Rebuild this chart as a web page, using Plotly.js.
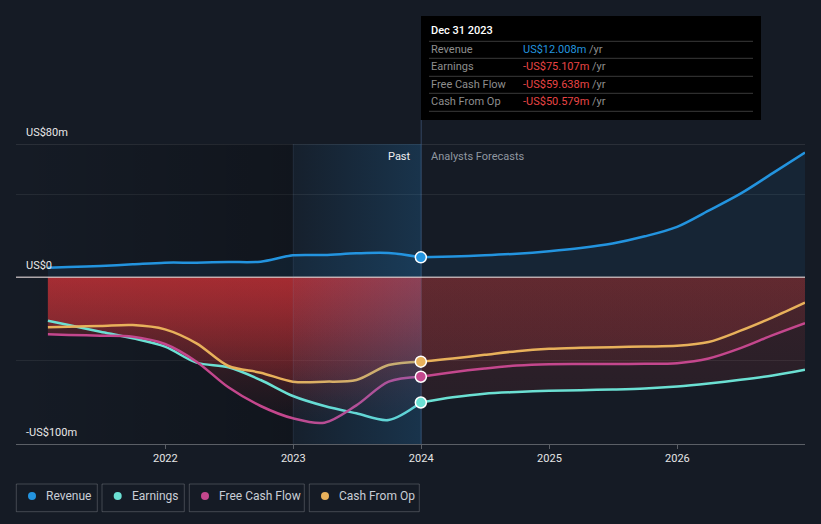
<!DOCTYPE html>
<html>
<head>
<meta charset="utf-8">
<script src="https://cdn.plot.ly/plotly-3.0.1.min.js"></script>
<style>html,body{margin:0;padding:0;background:#151b25;}#chart{width:821px;height:524px;}</style>
</head>
<body>
<div id="chart"></div>
<script>
// ---- data (US$ millions) ----
const pastDates = ['2021-01-31','2021-03-31','2021-06-30','2021-09-30','2021-12-31','2022-03-31','2022-06-30','2022-09-30','2022-12-31','2023-03-31','2023-06-30','2023-09-30','2023-12-31'];
const forecastDates = ['2023-12-31','2024-03-31','2024-06-30','2024-09-30','2024-12-31','2025-03-31','2025-06-30','2025-09-30','2025-12-31','2026-03-31','2026-06-30','2026-09-30','2026-12-31'];

const revenuePast = [5.8, 6.2, 6.8, 7.8, 8.8, 8.8, 9.2, 9.4, 13.2, 13.4, 14.4, 14.6, 12.008];
const revenueForecast = [12.008, 12.5, 13.2, 14.2, 15.7, 17.6, 20.3, 24.6, 30.3, 40.0, 50.2, 62.5, 74.9];

const earningsPast = [-26.0, -28.6, -32.6, -36.6, -41.6, -51.2, -54.0, -61.6, -71.2, -77.2, -81.6, -85.6, -75.107];
const earningsForecast = [-75.107, -72.0, -69.8, -68.8, -68.1, -67.7, -67.3, -66.7, -65.5, -63.7, -61.5, -58.9, -55.5];

const fcfPast = [-34.2, -34.6, -35.0, -35.6, -40.0, -50.6, -66.0, -77.2, -84.6, -87.2, -76.8, -62.6, -59.638];
const fcfForecast = [-59.638, -56.9, -54.7, -52.9, -52.1, -52.0, -52.0, -51.9, -51.5, -48.7, -42.5, -34.7, -27.5];

const cfoPast = [-30.0, -29.6, -29.2, -28.6, -31.2, -39.6, -53.2, -57.2, -62.6, -62.6, -61.6, -52.6, -50.579];
const cfoForecast = [-50.579, -48.7, -46.5, -44.3, -42.9, -42.3, -41.9, -41.5, -41.1, -38.8, -32.0, -24.0, -15.2];

const seriesNames = ['Revenue', 'Earnings', 'Free Cash Flow', 'Cash From Op'];
const seriesColors = ['#2394df', '#6be0d3', '#c4478d', '#e8b15b'];
const tooltipDate = 'Dec 31 2023';
const tooltipValues = ['US$12.008m', '-US$75.107m', '-US$59.638m', '-US$50.579m'];
const yLabelVals = [80, 0, -100];
const yLabelText = ['US$80m', 'US$0', '-US$100m'];
const yearTicks = ['2022-01-01','2023-01-01','2024-01-01','2025-01-01','2026-01-01'];
const yearLabels = ['2022','2023','2024','2025','2026'];
const xRange = ['2020-11-01','2026-12-31'];
const yRange = [-100, 80];
const pastStart = '2023-01-01';
const forecastStart = '2024-01-01';

const FONT = 'Roboto, "Open Sans", Arial, sans-serif';
const traces = [];

// darker region left of the "past" band
traces.push({
  x: [xRange[0], pastStart, pastStart, xRange[0], xRange[0]],
  y: [yRange[1], yRange[1], yRange[0], yRange[0], yRange[1]],
  mode: 'none', fill: 'toself', hoverinfo: 'skip', showlegend: false,
  fillcolor: 'rgba(0,0,0,0.1)',
  fillgradient: {type: 'horizontal', colorscale: [[0, 'rgba(0,0,0,0.0)'], [1, 'rgba(0,0,0,0.22)']]}
});

// revenue fill
[[pastDates, revenuePast], [forecastDates, revenueForecast]].forEach(([x, y]) => {
  traces.push({x, y, mode: 'none', fill: 'tozeroy', line: {shape: 'spline', smoothing: 0.9},
    fillcolor: 'rgba(35,148,223,0.09)', hoverinfo: 'skip', showlegend: false});
});

// negative fills
[earningsPast, fcfPast, cfoPast].forEach(y => {
  traces.push({x: pastDates, y, mode: 'lines', line: {width: 0, shape: 'spline', smoothing: 0.9}, fill: 'tozeroy',
    fillcolor: 'rgba(200,50,55,0.3)',
    fillgradient: {type: 'vertical', start: -90, stop: 0,
      colorscale: [[0, 'rgba(200,50,55,0.0)'], [1, 'rgba(205,50,55,0.4)']]},
    hoverinfo: 'skip', showlegend: false});
});
[earningsForecast, fcfForecast, cfoForecast].forEach(y => {
  traces.push({x: forecastDates, y, mode: 'lines', line: {width: 0, shape: 'spline', smoothing: 0.9}, fill: 'tozeroy',
    fillcolor: 'rgba(200,60,62,0.15)',
    fillgradient: {type: 'vertical', start: -80, stop: 0,
      colorscale: [[0, 'rgba(200,60,62,0.10)'], [1, 'rgba(200,60,62,0.17)']]},
    hoverinfo: 'skip', showlegend: false});
});

// lines
const pastSets = [revenuePast, earningsPast, fcfPast, cfoPast];
const fcSets = [revenueForecast, earningsForecast, fcfForecast, cfoForecast];
for (let i = 0; i < 4; i++) {
  traces.push({x: pastDates, y: pastSets[i], mode: 'lines', name: seriesNames[i],
    line: {color: seriesColors[i], width: 2.5, shape: 'spline', smoothing: 0.9}, hoverinfo: 'skip', showlegend: false});
  traces.push({x: forecastDates, y: fcSets[i], mode: 'lines', name: seriesNames[i],
    line: {color: seriesColors[i], width: 2.5, shape: 'spline', smoothing: 0.9}, hoverinfo: 'skip', showlegend: false});
}

// past band overlay
traces.push({
  x: [pastStart, forecastStart, forecastStart, pastStart, pastStart],
  y: [yRange[1], yRange[1], yRange[0], yRange[0], yRange[1]],
  mode: 'none', fill: 'toself', hoverinfo: 'skip', showlegend: false,
  fillcolor: 'rgba(30,140,220,0.12)',
  fillgradient: {type: 'horizontal', colorscale: [[0, 'rgba(40,150,230,0.04)'], [1, 'rgba(40,150,230,0.2)']]}
});

// markers at the latest actual point
traces.push({
  x: [pastDates[12], pastDates[12], pastDates[12], pastDates[12]],
  y: [revenuePast[12], earningsPast[12], fcfPast[12], cfoPast[12]],
  mode: 'markers', hoverinfo: 'skip', showlegend: false,
  marker: {size: 11, color: seriesColors, line: {color: '#ffffff', width: 1.5}}
});

// ---- layout helpers ----
const W = 821, H = 524, L = 16, R = 16, T = 144, B = 80;
const pw = W - L - R, ph = H - T - B;
const xp = px => (px - L) / pw;
const yp = py => (H - B - py) / ph;

const shapes = [];
const annotations = [];

// top line at 80 and zero line
shapes.push({type: 'line', xref: 'paper', yref: 'y', x0: 0, x1: 1, y0: 80, y1: 80, line: {color: 'rgba(255,255,255,0.18)', width: 1}, layer: 'below'});
shapes.push({type: 'line', xref: 'paper', yref: 'y', x0: 0, x1: 1, y0: 0, y1: 0, line: {color: 'rgba(225,215,215,0.75)', width: 1.5}, layer: 'above'});
// boundary lines
shapes.push({type: 'line', xref: 'x', yref: 'paper', x0: pastStart, x1: pastStart, y0: 0, y1: 1, line: {color: 'rgba(120,150,190,0.15)', width: 1}, layer: 'above'});
shapes.push({type: 'line', xref: 'x', yref: 'paper', x0: forecastStart, x1: forecastStart, y0: 0, y1: yp(120), line: {color: 'rgba(70,100,140,0.6)', width: 1}, layer: 'below'});

// y labels
yLabelVals.forEach((v, i) => annotations.push({xref: 'paper', yref: 'y', x: xp(24), y: v, xanchor: 'left', yanchor: 'middle', yshift: 12,
  text: yLabelText[i], showarrow: false, font: {family: FONT, size: 11, color: '#e8e8e8'}}));

// past / forecast labels
annotations.push({xref: 'paper', yref: 'paper', x: xp(413), y: yp(156), xanchor: 'right', yanchor: 'middle', text: 'Past', showarrow: false, font: {family: FONT, size: 11, color: '#f0f0f0'}});
annotations.push({xref: 'paper', yref: 'paper', x: xp(429), y: yp(156), xanchor: 'left', yanchor: 'middle', text: 'Analysts Forecasts', showarrow: false, font: {family: FONT, size: 11, color: '#9097a0'}});

// tooltip
shapes.push({type: 'rect', xref: 'paper', yref: 'paper', x0: xp(421), x1: xp(761), y0: yp(120), y1: yp(16), fillcolor: '#000000', line: {width: 0}, layer: 'above'});
annotations.push({xref: 'paper', yref: 'paper', x: xp(429), y: yp(31), xanchor: 'left', yanchor: 'middle', text: tooltipDate, showarrow: false, font: {family: FONT, size: 11, color: '#ffffff', weight: 500}});
[41.3, 58.3, 76.3, 93.3, 111.3].forEach(py => shapes.push({type: 'line', xref: 'paper', yref: 'paper', x0: xp(429), x1: xp(753), y0: yp(py), y1: yp(py), line: {color: '#3a3a3a', width: 1}, layer: 'above'}));
const rowY = [49, 66.7, 84.3, 101];
seriesNames.forEach((n, i) => {
  annotations.push({xref: 'paper', yref: 'paper', x: xp(429), y: yp(rowY[i]), xanchor: 'left', yanchor: 'middle', text: n, showarrow: false, font: {family: FONT, size: 11, color: '#8e8e8e'}});
  const c = i === 0 ? '#2394df' : '#e84545';
  annotations.push({xref: 'paper', yref: 'paper', x: xp(521), y: yp(rowY[i]), xanchor: 'left', yanchor: 'middle',
    text: '<span style="color:' + c + '">' + tooltipValues[i] + '</span> /yr', showarrow: false, font: {family: FONT, size: 11, color: '#8e8e8e'}});
});

// legend
const boxX = [[16.3, 97.3], [102, 184.3], [189.3, 304.3], [309.3, 419.3]];
const dotX = [32, 117.7, 205, 325];
const labX = [44.3, 130, 217.3, 337.3];
seriesNames.forEach((n, i) => {
  shapes.push({type: 'rect', xref: 'paper', yref: 'paper', x0: xp(boxX[i][0]), x1: xp(boxX[i][1]), y0: yp(511.7), y1: yp(484),
    line: {color: 'rgba(255,255,255,0.2)', width: 1}, fillcolor: 'rgba(0,0,0,0)'});
  shapes.push({type: 'circle', xref: 'paper', yref: 'paper', xsizemode: 'pixel', ysizemode: 'pixel', xanchor: xp(dotX[i]), yanchor: yp(496),
    x0: -4, x1: 4, y0: -4, y1: 4, fillcolor: seriesColors[i], line: {width: 0}});
  annotations.push({xref: 'paper', yref: 'paper', x: xp(labX[i]), y: yp(496), xanchor: 'left', yanchor: 'middle', text: n, showarrow: false,
    font: {family: FONT, size: 12, color: '#c9ced6'}});
});

const layout = {
  width: W, height: H,
  margin: {l: L, r: R, t: T, b: B, pad: 0},
  paper_bgcolor: '#151b25', plot_bgcolor: '#151b25',
  showlegend: false,
  font: {family: FONT, color: '#e8e8e8'},
  xaxis: {type: 'date', range: xRange, tickvals: yearTicks, ticktext: yearLabels, showgrid: false, zeroline: false,
    showline: true, linecolor: 'rgba(255,255,255,0.3)', linewidth: 1, ticks: 'outside', ticklen: 4, tickcolor: 'rgba(255,255,255,0.3)',
    tickfont: {family: FONT, size: 11, color: '#e6e6e6'}, fixedrange: true},
  yaxis: {range: yRange, tickvals: [-50, 50], showticklabels: false, showgrid: true, gridcolor: 'rgba(255,255,255,0.07)',
    zeroline: false, showline: false, ticks: '', fixedrange: true},
  shapes, annotations,
  hovermode: false
};

Plotly.newPlot('chart', traces, layout, {displayModeBar: false, staticPlot: true});
</script>
</body>
</html>
